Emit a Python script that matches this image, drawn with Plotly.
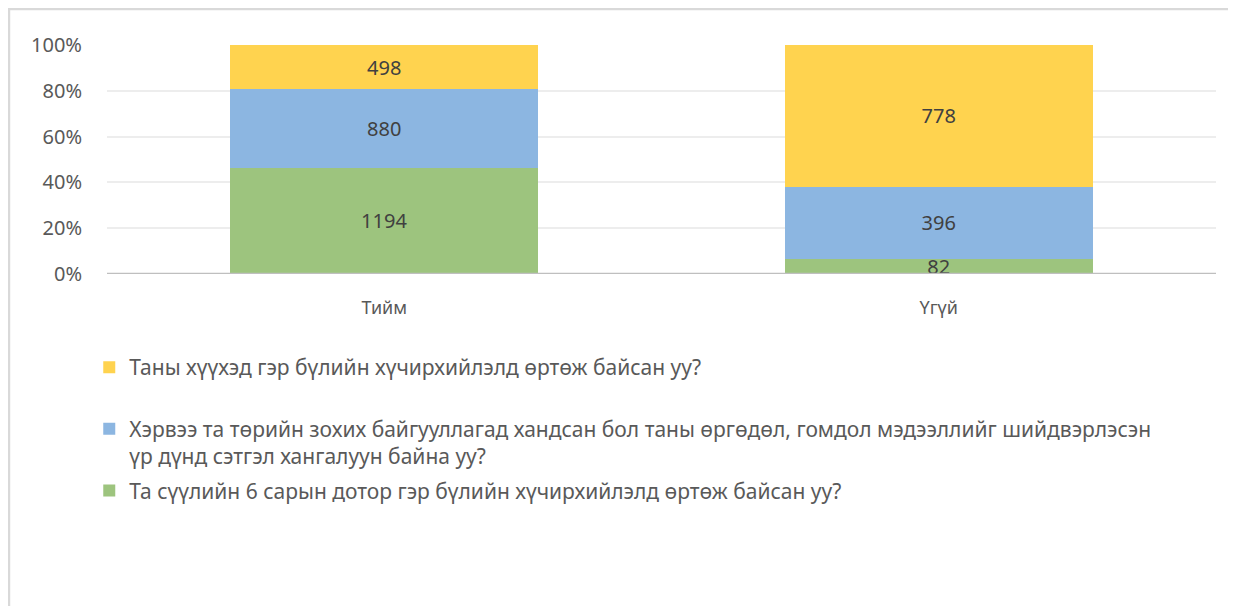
import plotly.graph_objects as go

categories = ["Тийм", "Үгүй"]
series_names = [
    "Та сүүлийн 6 сарын дотор гэр бүлийн хүчирхийлэлд өртөж байсан уу?",
    "Хэрвээ та төрийн зохих байгууллагад хандсан бол таны өргөдөл, гомдол мэдээллийг шийдвэрлэсэн<br>үр дүнд сэтгэл хангалуун байна уу?",
    "Таны хүүхэд гэр бүлийн хүчирхийлэлд өртөж байсан уу?<br>&nbsp;",
]
green_vals = [1194, 82]
blue_vals = [880, 396]
yellow_vals = [498, 778]
colors = ["#9DC47E", "#8CB6E1", "#FFD34F"]
legend_ranks = [3, 2, 1]
y_ticks = [0, 20, 40, 60, 80, 100]
y_ticklabels = ["0%", "20%", "40%", "60%", "80%", "100%"]

FONT = "Noto Sans, Open Sans, sans-serif"

fig = go.Figure()
for name, vals, col, rank in zip(series_names, [green_vals, blue_vals, yellow_vals], colors, legend_ranks):
    fig.add_trace(go.Bar(
        x=categories, y=vals, name=name,
        marker=dict(color=col, line=dict(width=0)),
        text=[str(v) for v in vals],
        textposition="inside", insidetextanchor="middle",
        constraintext="none", textangle=0,
        textfont=dict(family=FONT, size=20, color="#404040"),
        legendgroup=f"g{rank}", legendrank=rank,
    ))

fig.update_layout(
    barmode="stack", barnorm="percent", bargap=0.445,
    width=1236, height=606,
    margin=dict(l=99, r=28, t=37, b=340),
    paper_bgcolor="white", plot_bgcolor="white",
    font=dict(family=FONT, color="#595959"),
    showlegend=True,
    legend=dict(
        x=-0.016, xanchor="left", y=-0.319, yanchor="top",
        traceorder="grouped", tracegroupgap=4, valign="top",
        font=dict(family=FONT, size=21, color="#595959"),
        itemwidth=30, bgcolor="rgba(0,0,0,0)",
    ),
    xaxis=dict(
        showgrid=False, showline=False, zeroline=False,
        ticks="outside", ticklen=17, tickcolor="rgba(0,0,0,0)",
        tickfont=dict(family=FONT, size=18, color="#595959"),
    ),
    yaxis=dict(
        range=[0, 100], tickvals=y_ticks, ticktext=y_ticklabels,
        showgrid=True, gridcolor="#EDEDED", gridwidth=1.5,
        zeroline=False, showline=False,
        ticks="outside", ticklen=20, tickcolor="rgba(0,0,0,0)",
        tickfont=dict(family=FONT, size=20, color="#595959"),
    ),
    shapes=[
        dict(type="line", xref="paper", yref="y", x0=0, x1=1, y0=0, y1=0,
             line=dict(color="#BFBFBF", width=2.5)),
        dict(type="rect", xref="paper", yref="paper",
             x0=-0.0884, x1=1.05, y0=1.1572, y1=-1.6,
             line=dict(color="#D9D9D9", width=2.5), layer="below"),
    ],
)

fig.write_html("out.html")
